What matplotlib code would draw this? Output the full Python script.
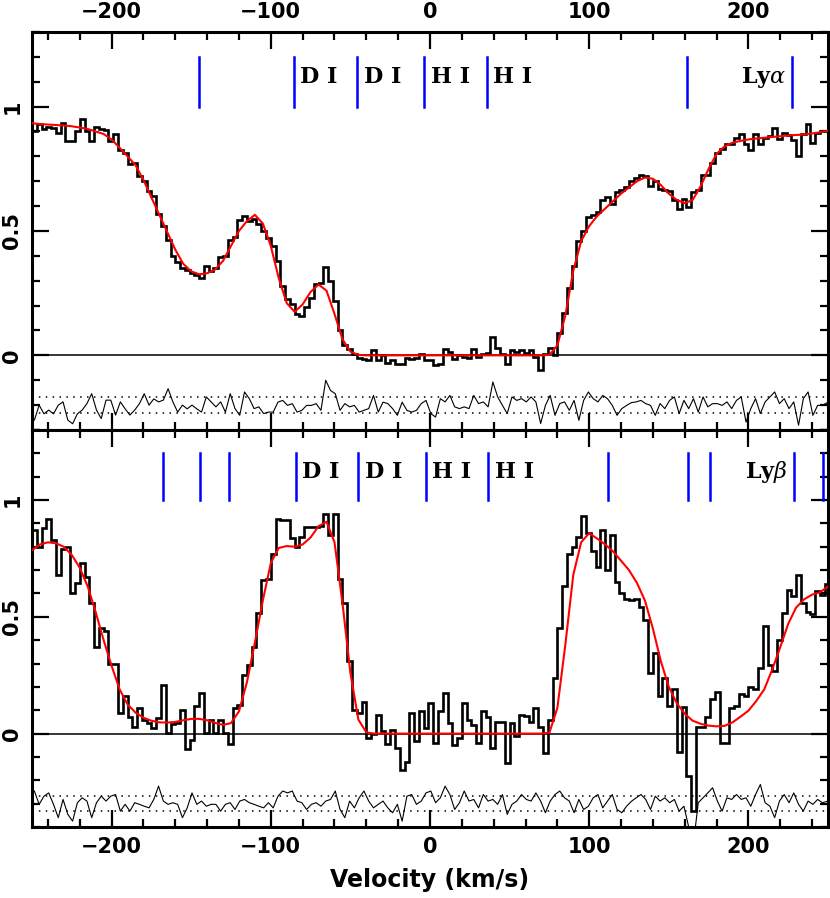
import numpy as np
import matplotlib
matplotlib.use("Agg")
import matplotlib.pyplot as plt
from matplotlib.ticker import MultipleLocator

plt.rcParams['mathtext.fontset'] = 'dejavuserif'

# velocity bins (3 km/s) and model grid (5 km/s)
v_edges = np.arange(-250, 252, 3)
v_mid = v_edges[:-1] + 1.5
v_mod = np.arange(-250, 251, 5)

# ---- Ly alpha panel ----
lya_flux = [
    0.90, 0.93, 0.91, 0.92, 0.915, 0.895, 0.935, 0.86, 0.86, 0.90,
    0.95, 0.90, 0.86, 0.92, 0.91, 0.905, 0.86, 0.89, 0.825, 0.815,
    0.77, 0.775, 0.72, 0.70, 0.66, 0.64, 0.57, 0.52, 0.465, 0.40,
    0.375, 0.35, 0.345, 0.33, 0.325, 0.31, 0.36, 0.34, 0.35, 0.395,
    0.40, 0.465, 0.475, 0.545, 0.56, 0.54, 0.55, 0.53, 0.50, 0.47,
    0.44, 0.38, 0.28, 0.225, 0.205, 0.165, 0.16, 0.195, 0.23, 0.285,
    0.29, 0.355, 0.30, 0.22, 0.10, 0.04, 0.025, 0.005, -0.01, -0.015,
    -0.02, 0.02, -0.02, 0.0, -0.03, -0.02, -0.035, -0.035, -0.01, -0.015,
    -0.01, 0.005, -0.02, -0.02, -0.04, -0.035, 0.025, 0.015, -0.015, 0.0,
    -0.005, -0.01, 0.025, -0.005, 0.005, 0.01, 0.075, 0.03, 0.005, -0.035,
    0.02, 0.015, 0.02, 0.01, 0.02, -0.005, -0.06, 0.005, 0.03, 0.0,
    0.09, 0.17, 0.27, 0.36, 0.46, 0.50, 0.555, 0.565, 0.575, 0.625,
    0.635, 0.61, 0.655, 0.665, 0.675, 0.70, 0.715, 0.725, 0.72, 0.68,
    0.70, 0.67, 0.665, 0.66, 0.625, 0.59, 0.63, 0.595, 0.655, 0.665,
    0.725, 0.725, 0.775, 0.815, 0.83, 0.85, 0.85, 0.875, 0.89, 0.85,
    0.825, 0.89, 0.85, 0.875, 0.88, 0.915, 0.87, 0.895, 0.885, 0.865,
    0.80, 0.89, 0.93, 0.855, 0.895, 0.90, 0.90]

lya_model = [
    0.933, 0.930, 0.928, 0.926, 0.924, 0.921, 0.916, 0.910, 0.900, 0.890,
    0.868, 0.835, 0.80, 0.765, 0.705, 0.635, 0.565, 0.495, 0.425, 0.368,
    0.338, 0.326, 0.33, 0.345, 0.38, 0.44, 0.50, 0.54, 0.565, 0.53,
    0.44, 0.31, 0.21, 0.175, 0.205, 0.255, 0.285, 0.26, 0.167, 0.065,
    0.015, 0.002, 0, 0, 0, 0, 0, 0, 0, 0,
    0, 0, 0, 0, 0, 0, 0, 0, 0, 0,
    0, 0, 0, 0, 0, 0.002, 0.04, 0.16, 0.34, 0.46,
    0.52, 0.56, 0.59, 0.62, 0.65, 0.675, 0.70, 0.715, 0.71, 0.685,
    0.65, 0.625, 0.612, 0.625, 0.68, 0.75, 0.81, 0.84, 0.855, 0.862,
    0.868, 0.872, 0.875, 0.878, 0.881, 0.884, 0.886, 0.888, 0.892, 0.897,
    0.903]

lya_resid = [
    -0.26, -0.20, -0.235, -0.22, -0.235, -0.20, -0.187, -0.26, -0.275, -0.235,
    -0.22, -0.194, -0.154, -0.22, -0.254, -0.18, -0.18, -0.24, -0.187, -0.215,
    -0.24, -0.22, -0.194, -0.154, -0.20, -0.175, -0.187, -0.18, -0.134, -0.187,
    -0.228, -0.20, -0.215, -0.20, -0.215, -0.228, -0.167, -0.187, -0.207, -0.187,
    -0.228,
    -0.154, -0.214, -0.241, -0.147, -0.174, -0.214, -0.207, -0.234, -0.228, -0.228,
    -0.188, -0.181, -0.201, -0.194, -0.228, -0.221, -0.201, -0.201, -0.194, -0.221,
    -0.100, -0.141, -0.154, -0.221, -0.194, -0.207, -0.201, -0.228, -0.221, -0.214,
    -0.161, -0.228, -0.188, -0.194, -0.214, -0.241, -0.188, -0.221, -0.228, -0.221,
    -0.194, -0.181,
    -0.234, -0.248, -0.174, -0.187, -0.161, -0.207, -0.214, -0.207, -0.214, -0.161,
    -0.194, -0.187, -0.207, -0.107, -0.167, -0.201, -0.234, -0.167, -0.181, -0.174,
    -0.187, -0.167, -0.187, -0.274, -0.201, -0.161, -0.241, -0.194, -0.187, -0.221,
    -0.181, -0.261, -0.181, -0.147, -0.174, -0.187, -0.161, -0.174, -0.201, -0.241,
    -0.214, -0.201, -0.19,
    -0.187, -0.181, -0.194, -0.201, -0.241, -0.194, -0.214, -0.181, -0.167, -0.234,
    -0.181, -0.214, -0.174, -0.228, -0.167, -0.207, -0.194, -0.194, -0.201, -0.187,
    -0.214, -0.181, -0.167, -0.268, -0.214, -0.174, -0.234, -0.187, -0.167, -0.147,
    -0.194, -0.174, -0.214, -0.187, -0.281, -0.174, -0.147, -0.241, -0.201, -0.201,
    -0.19]

lya_ticks = [-145.3, -85.4, -45.7, -3.6, 35.6, 161.2, 227.7]
lya_ids = ['', 'D I', 'D I', 'H I', 'H I', '', '']

# ---- Ly beta panel ----
lyb_flux = [
    0.87, 0.80, 0.88, 0.92, 0.83, 0.68, 0.79, 0.80, 0.60, 0.644,
    0.73, 0.672, 0.56, 0.37, 0.45, 0.44, 0.30, 0.30, 0.09, 0.16,
    0.07, 0.03, 0.11, 0.06, 0.045, 0.024, 0.067, 0.21, 0.003, 0.04,
    0.046, 0.10, -0.068, -0.026, 0.117, 0.174, 0.003, 0.06, 0.003, 0.06,
    0.003, -0.045, 0.11, 0.124, 0.25, 0.295, 0.37, 0.516, 0.658, 0.66,
    0.77, 0.92, 0.915, 0.915, 0.836, 0.80, 0.843, 0.886, 0.886, 0.886,
    0.89, 0.94, 0.85, 0.94, 0.66, 0.56, 0.31, 0.10, 0.09, 0.135,
    -0.02, 0.0, 0.08, 0.01, -0.045, 0.015, -0.06, -0.155, -0.12, 0.088,
    -0.03, 0.095, 0.024, 0.13, -0.04, 0.095, 0.174, 0.046, -0.047, -0.02,
    0.13, 0.06, 0.035, -0.04, 0.095, 0.07, -0.06, 0.05, 0.05, -0.125,
    0.046, -0.01, 0.08, 0.075, 0.05, 0.11, 0.03, -0.085, 0.06, 0.24,
    0.45, 0.63, 0.77, 0.80, 0.84, 0.93, 0.86, 0.78, 0.715, 0.87,
    0.70, 0.85, 0.65, 0.60, 0.575, 0.57, 0.575, 0.54, 0.485, 0.26,
    0.345, 0.16, 0.24, 0.12, 0.19, -0.08, 0.115, -0.18, -0.33, 0.03,
    0.03, 0.07, 0.15, 0.18, -0.04, -0.04, 0.11, 0.12, 0.17, 0.16,
    0.20, 0.19, 0.28, 0.46, 0.295, 0.27, 0.40, 0.515, 0.615, 0.59,
    0.68, 0.56, 0.52, 0.51, 0.61, 0.595, 0.64]

lyb_model = [
    0.785, 0.81, 0.819, 0.815, 0.80, 0.765, 0.71, 0.63, 0.52, 0.40,
    0.29, 0.19, 0.125, 0.09, 0.068, 0.055, 0.048, 0.047, 0.05, 0.057,
    0.063, 0.063, 0.057, 0.046, 0.037, 0.045, 0.095, 0.22, 0.39, 0.57,
    0.73, 0.795, 0.803, 0.80, 0.81, 0.84, 0.888, 0.907, 0.82, 0.56,
    0.26, 0.06, 0.005, 0, 0, 0, 0, 0, 0, 0,
    0, 0, 0, 0, 0, 0, 0, 0, 0, 0,
    0, 0, 0, 0, 0, 0.004, 0.11, 0.38, 0.68, 0.82,
    0.858, 0.835, 0.81, 0.78, 0.74, 0.70, 0.645, 0.57, 0.45, 0.31,
    0.20, 0.13, 0.085, 0.055, 0.042, 0.034, 0.031, 0.033, 0.048, 0.072,
    0.098, 0.14, 0.19, 0.275, 0.37, 0.47, 0.54, 0.575, 0.595, 0.605,
    0.63]

lyb_resid = [
    -0.246, -0.303, -0.268, -0.254, -0.303, -0.360, -0.282, -0.346, -0.375, -0.296,
    -0.275, -0.289, -0.360, -0.296, -0.268, -0.289, -0.268, -0.261, -0.332, -0.303,
    -0.332, -0.296, -0.303, -0.311, -0.318, -0.282, -0.225, -0.289, -0.303, -0.296,
    -0.303, -0.360, -0.318, -0.254, -0.303, -0.289, -0.311, -0.303, -0.303, -0.332,
    -0.303,
    -0.296, -0.325, -0.289, -0.282, -0.296, -0.303, -0.311, -0.318, -0.296, -0.318,
    -0.268, -0.246, -0.254, -0.246, -0.289, -0.296, -0.325, -0.303, -0.296, -0.311,
    -0.289, -0.282, -0.246, -0.325, -0.360, -0.289, -0.318, -0.275, -0.246, -0.289,
    -0.318, -0.303, -0.289, -0.318, -0.339, -0.303, -0.375, -0.268, -0.261, -0.303,
    -0.289, -0.254,
    -0.246, -0.296, -0.275, -0.225, -0.261, -0.325, -0.296, -0.246, -0.289, -0.282,
    -0.318, -0.261, -0.289, -0.282, -0.303, -0.261, -0.346, -0.303, -0.289, -0.261,
    -0.282, -0.289, -0.254, -0.289, -0.339, -0.289, -0.261, -0.246, -0.275, -0.289,
    -0.339, -0.282, -0.325, -0.311, -0.275, -0.261, -0.318, -0.289, -0.261, -0.325,
    -0.339, -0.311, -0.29,
    -0.275, -0.261, -0.282, -0.325, -0.268, -0.289, -0.275, -0.296, -0.282, -0.332,
    -0.311, -0.40, -0.47, -0.296, -0.275, -0.254, -0.232, -0.289, -0.332, -0.275,
    -0.282, -0.261, -0.282, -0.275, -0.311, -0.261, -0.218, -0.296, -0.311, -0.360,
    -0.289, -0.261, -0.296, -0.254, -0.303, -0.332, -0.289, -0.303, -0.282, -0.296,
    -0.29]

lyb_ticks = [-167.8, -144.7, -126.2, -84.3, -45.1, -2.7, 36.7, 111.7, 162.0,
             175.7, 228.5, 246.8]
lyb_ids = ['', '', '', 'D I', 'D I', 'H I', 'H I', '', '', '', '', '']


def panel(ax, flux, model, resid, rzero, ticks, ids, name, name_at, ylo):
    ax.axhline(0, color='black', lw=1.1, zorder=1)
    ax.axhline(rzero + 0.033, color='black', lw=1.1, ls=(0, (1, 3.5)))
    ax.axhline(rzero - 0.033, color='black', lw=1.1, ls=(0, (1, 3.5)))
    ax.stairs(flux, v_edges, color='black', lw=1.9, baseline=None, zorder=2)
    ax.plot(v_mod, model, color='red', lw=1.5, zorder=3)
    ax.plot(v_mid, resid, color='black', lw=0.8, zorder=2)
    for v, lab in zip(ticks, ids):
        ax.plot([v, v], [1.0, 1.2], color='blue', lw=1.8, zorder=3)
        if lab:
            ax.text(v + 4, 1.095, lab, family='DejaVu Serif', fontsize=16,
                    fontweight='bold', ha='left', va='baseline')
    ax.text(name_at - 4, 1.095, name, family='DejaVu Serif', fontsize=16,
            fontweight='bold', ha='right', va='baseline')

    ax.set_xlim(-250, 250)
    ax.set_ylim(ylo, 1.3)
    ax.xaxis.set_major_locator(MultipleLocator(100))
    ax.xaxis.set_minor_locator(MultipleLocator(20))
    ax.set_yticks([0, 0.5, 1])
    ax.set_yticklabels(['0', '0.5', '1'])
    ax.yaxis.set_minor_locator(MultipleLocator(0.1))
    ax.tick_params(which='both', direction='in', top=True, right=True,
                   width=1.6, labelsize=15)
    ax.tick_params(which='major', length=12)
    ax.tick_params(which='minor', length=6)
    ax.tick_params(axis='y', labelrotation=90, pad=7)
    for lab in ax.get_yticklabels():
        lab.set_va('center')
    for lab in ax.get_xticklabels() + ax.get_yticklabels():
        lab.set_fontweight('bold')
    for s in ax.spines.values():
        s.set_linewidth(2.2)


fig = plt.figure(figsize=(8.3, 8.98), dpi=100)
ax1 = fig.add_axes([32 / 830, 1 - 430 / 898, 796 / 830, 398 / 898])
ax2 = fig.add_axes([32 / 830, 1 - 827 / 898, 796 / 830, 397 / 898])

panel(ax1, lya_flux, lya_model, lya_resid, -0.2, lya_ticks, lya_ids,
      r'Ly$\alpha$', 227.7, -0.3)
panel(ax2, lyb_flux, lyb_model, lyb_resid, -0.3, lyb_ticks, lyb_ids,
      r'Ly$\beta$', 228.5, -0.4)

ax1.tick_params(axis='x', labeltop=True, labelbottom=False, pad=7)
for lab in ax1.get_xticklabels():
    lab.set_fontweight('bold')
ax2.tick_params(axis='x', pad=7)
ax2.set_xlabel('Velocity (km/s)', fontsize=17, fontweight='bold', labelpad=8)

fig.savefig('out.png', dpi=100)
